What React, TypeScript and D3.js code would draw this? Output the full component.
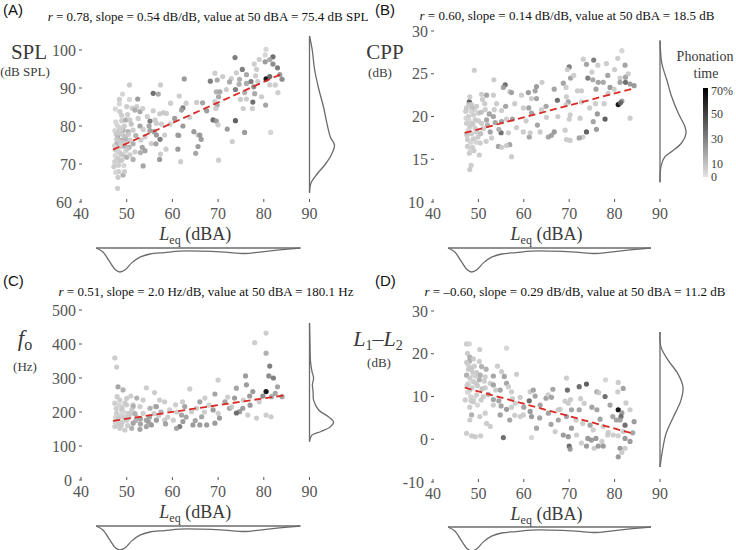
import React from "react";
import * as d3 from "d3";

// ---------- DATA ----------
// [Leq (dBA), value, phonation time %]
const splPoints: number[][] = [
[80.5,100.2,5],[80.3,98.7,5],[82.0,98.2,40],[81.3,97.5,20],[80.3,96.9,25],[82.0,96.3,30],[83.0,95.3,35],[73.7,98.0,35],[77.9,96.3,8],[78.4,94.9,8],[75.3,94.9,35],[69.3,93.9,8],[76.2,93.5,20],[78.2,93.2,8],[80.5,92.4,70],[81.3,93.0,40],[84.0,92.3,30],[62.6,92.4,25],[68.3,91.8,35],[69.8,92.1,20],[72.9,92.5,8],[72.5,91.6,20],[74.7,92.3,18],[74.6,91.0,18],[76.2,91.2,20],[77.2,91.7,35],[78.7,91.7,8],[81.3,90.8,8],[70.4,89.0,20],[69.6,89.0,18],[71.8,89.6,8],[73.8,89.6,35],[77.8,90.3,30],[75.8,88.8,18],[74.9,87.0,8],[76.2,87.1,8],[77.6,86.3,40],[75.5,84.6,8],[77.5,84.6,8],[79.5,87.7,8],[80.4,85.5,22],[83.1,88.8,8],[70.1,87.7,20],[69.3,86.4,8],[69.8,85.5,20],[69.5,84.6,8],[68.9,81.6,40],[69.6,81.3,25],[70.0,80.3,8],[73.8,81.4,45],[72.0,79.2,25],[75.8,78.3,25],[81.5,78.3,5],[73.1,75.9,8],[70.1,71.0,8],[66.6,86.1,22],[65.3,86.2,8],[62.3,84.8,35],[62.0,84.2,22],[61.5,87.9,8],[59.6,86.0,8],[58.0,83.5,8],[57.2,83.2,8],[57.4,90.8,8],[55.8,88.6,40],[56.9,88.4,20],[50.6,90.8,8],[49.1,88.4,5],[48.4,87.0,8],[50.6,87.0,5],[52.4,87.1,25],[48.4,85.8,5],[50.0,85.1,8],[51.2,84.7,8],[52.2,85.1,8],[52.9,83.8,22],[51.8,84.2,18],[53.5,84.6,8],[48.5,83.8,8],[47.6,81.1,5],[48.9,81.4,8],[49.8,81.6,18],[50.7,81.6,8],[55.1,81.3,35],[56.2,81.6,8],[56.5,80.7,8],[57.6,80.5,8],[52.9,80.0,22],[51.4,78.9,8],[50.3,78.5,18],[48.4,79.6,8],[49.2,78.9,18],[47.4,78.8,5],[53.6,79.1,8],[54.9,80.0,22],[55.1,78.8,22],[56.0,78.5,22],[56.5,77.6,25],[57.3,76.5,35],[58.3,77.6,8],[48.0,77.2,18],[48.9,76.3,18],[49.8,76.5,18],[50.7,76.3,8],[51.4,75.3,18],[53.1,76.3,8],[54.0,77.2,8],[47.8,75.3,18],[48.7,74.6,8],[49.6,74.7,18],[50.5,74.4,18],[53.4,74.4,22],[54.0,73.5,22],[55.4,75.4,8],[56.4,75.3,22],[57.4,72.6,8],[58.6,73.9,8],[47.6,73.7,8],[48.5,73.0,8],[49.2,72.4,8],[48.0,71.5,8],[48.9,71.0,8],[50.0,71.8,18],[47.4,70.6,8],[48.2,69.7,8],[50.7,72.4,8],[51.4,71.2,18],[51.8,73.2,8],[47.2,69.3,8],[48.2,68.0,8],[49.2,67.1,18],[49.5,68.0,8],[53.6,69.5,22],[57.2,71.2,25],[48.0,63.6,8],[61.2,77.6,25],[61.4,77.5,22],[61.2,73.9,25],[61.8,70.6,8],[62.3,80.0,25],[64.7,78.5,25],[65.6,77.6,8],[66.0,77.6,25],[66.3,76.5,25],[65.6,74.6,25],[65.1,72.8,22],[63.8,82.3,8],[58.7,83.3,8],
[47.8,76.5,8],[48.6,75.5,5],[49.0,77.8,8],[47.5,72.2,5],[48.8,72.5,8],[49.8,73.5,5],[48.3,78.5,8],[49.5,80.0,8],[47.9,80.2,5],[50.2,83.0,8],[47.5,84.5,5],[48.9,82.8,8],
[47.3,74.8,5],[47.7,77.9,8],[48.1,73.4,5],[48.4,76.0,8],[48.8,79.2,5],[49.3,75.6,8],[49.7,77.2,12],[50.1,74.0,8],[47.9,70.4,5],[48.6,70.9,8],[49.4,69.6,5],[48.1,66.5,8],[47.6,67.8,5],[50.4,77.8,8],[51.0,80.5,12],[52.0,77.5,18],[52.5,82.0,8],[53.0,73.0,18],[54.5,82.5,8],[55.8,84.0,8],[59.5,80.5,8],[60.5,82.0,25],[63.0,86.0,8],[67.5,84.0,25],[71.0,93.0,8],[74.0,94.0,8],[79.0,97.5,8],[83.5,93.5,25],[82.5,90.8,8],[78.0,88.5,20]
];

const cppPoints: number[][] = [
[81.6,27.7,5],[80.7,26.8,8],[82.3,26.0,22],[75.4,26.6,35],[73.1,26.7,8],[73.8,26.1,22],[76.3,26.0,8],[78.2,26.2,8],[70.0,25.8,35],[69.6,25.5,8],[75.0,25.2,8],[70.3,24.5,22],[74.1,24.5,35],[75.2,24.3,20],[76.4,24.0,22],[77.5,24.0,20],[81.2,24.5,8],[82.4,24.6,22],[81.2,24.0,22],[82.4,24.0,40],[83.4,23.8,25],[84.3,23.6,25],[79.0,23.4,25],[79.9,23.2,8],[68.7,23.9,22],[66.7,23.2,22],[69.3,23.4,8],[71.8,23.0,8],[72.7,23.0,8],[75.9,23.2,22],[78.6,22.7,8],[62.8,23.5,25],[62.5,23.0,22],[61.0,22.8,25],[59.5,22.5,8],[62.8,22.1,22],[61.7,22.1,8],[67.4,21.9,40],[64.9,21.2,22],[69.4,22.3,8],[69.8,21.7,22],[69.3,21.4,8],[72.7,21.7,8],[75.8,21.5,8],[77.7,21.5,8],[80.8,21.4,70],[81.6,21.8,25],[81.3,21.6,40],[83.4,19.8,8],[76.2,20.3,25],[77.9,19.7,45],[75.3,19.4,22],[76.0,18.5,25],[73.8,18.2,45],[73.0,17.6,8],[72.2,17.5,22],[70.0,19.7,8],[70.2,20.2,8],[72.4,19.8,8],[69.4,17.3,8],[70.2,17.2,8],[69.1,18.4,8],[66.7,18.2,25],[66.1,17.8,22],[65.4,17.6,22],[65.0,19.9,8],[63.9,20.8,8],[61.7,20.4,22],[61.2,17.6,22],[61.4,18.1,8],[63.6,18.2,8],[59.9,18.2,8],[59.9,21.0,8],[61.1,21.0,22],[58.4,18.7,8],[57.5,19.7,22],[56.2,19.7,8],[55.1,19.4,22],[53.7,19.3,22],[55.0,18.1,40],[56.6,18.1,8],[56.9,16.7,22],[56.2,16.6,8],[57.3,15.3,8],[54.4,16.5,22],[55.1,16.4,8],[56.9,22.9,8],[57.3,22.8,22],[55.9,23.7,40],[55.5,23.4,22],[53.4,24.3,8],[53.3,22.5,8],[55.1,20.7,8],[54.0,21.5,8],[51.8,22.5,22],[50.7,22.6,8],[50.9,22.0,8],[51.5,20.8,8],[52.4,20.3,22],[53.3,20.0,22],[51.8,19.6,22],[50.7,19.2,8],[49.3,18.6,8],[51.1,18.6,8],[52.6,18.2,22],[52.9,17.5,8],[51.7,17.1,8],[50.4,16.9,8],[49.1,25.4,8],[48.0,21.7,45],[48.1,22.3,8],[47.4,21.0,8],[48.5,21.4,8],[49.6,21.2,8],[50.0,20.4,8],[48.9,20.2,8],[47.8,20.0,8],[47.4,19.2,8],[48.5,19.2,8],[49.3,19.6,8],[48.1,18.8,8],[47.4,18.0,8],[48.5,18.0,8],[49.6,18.2,8],[47.6,17.3,8],[48.9,17.4,8],[49.9,17.6,8],[47.6,16.5,8],[48.7,16.4,8],[48.0,15.7,8],[50.2,15.5,8],[48.4,14.3,8],[48.1,13.8,8],[47.2,20.6,8],
[47.9,19.6,5],[48.3,17.0,5],[49.0,16.0,8],[47.8,18.4,5],[49.2,20.8,5],[50.5,18.0,12],[48.6,21.0,12],
[47.3,19.8,5],[47.9,21.4,8],[48.4,20.6,5],[48.8,19.1,8],[49.5,17.0,5],[47.5,17.8,8],[48.2,16.0,5],[50.0,19.5,8],[50.6,20.5,12],[51.4,21.5,8],[52.0,19.0,18],[53.5,20.8,8],[54.5,18.5,18],[56.0,21.2,22],[58.0,21.5,8],[60.5,19.5,8],[63.0,19.0,22],[64.0,24.0,8],[67.5,20.0,8],[71.0,24.8,8],[74.5,21.0,8],[78.5,24.8,22],[80.0,25.5,8],[83.0,25.0,8]
];

const foPoints: number[][] = [
[47.4,359,8],[47.8,332,8],[48.1,274,22],[49.2,265,18],[50.9,247,8],[54.3,271,8],[56.1,257,8],[52.2,241,18],[53.6,235,8],[63.8,268,8],[57.2,235,8],[70,294,8],[69.3,253,22],[67.1,241,8],[72.1,244,8],[74,270,22],[76,306,25],[76.2,280,25],[78,404,8],[77.6,260,25],[80.5,432,8],[80.5,373,18],[81.3,335,35],[81.1,306,30],[82.1,300,35],[80.5,260,70],[83.0,274,22],[79.8,247,30],[81.7,245,20],[76.9,247,25],[73.6,241,25],[66.0,230,22],[60.7,221,8],[62.2,230,8],[58.3,230,8],[56.2,216,8],[51.4,221,8],[49.6,226,8],[47.4,226,8],[52.9,216,8],
[50,221,8],[51.4,216,18],[55.1,211,18],[56.5,216,22],[62.7,216,22],[65.3,211,8],[68.9,206,25],[72.5,211,22],[75.4,211,25],[74.7,201,25],[74.0,197,40],[76.5,191,8],[78.4,182,8],[80.5,191,8],[81.6,186,8],[70,196,8],[70.3,182,25],[69.3,167,25],[67.5,162,25],[66.4,186,22],[66,162,25],[64.5,162,25],[62.3,172,25],[61.6,157,35],[60.9,152,22],[60.2,176,8],[58.3,176,8],[56.5,176,25],[55.4,162,25],[54.3,176,22],[53.6,196,8],[52.2,186,8],[51.4,167,22],[50,176,8],[48.5,186,8],[47.8,176,8],[47.4,157,8],[48.5,152,8],[49.6,147,8],[51.1,152,18],[52.9,149,22],[54.3,157,22],[48.9,206,8],[50.3,196,8],[47.8,196,8],[51.1,206,8],[59.4,206,8],[62,191,22],[64.2,201,8],
[48.0,165,8],[49.0,170,8],[50.2,160,8],[48.6,190,5],[49.5,185,8],[50.8,195,8],[47.6,185,5],[52.0,175,18],[53.0,165,22],[55.0,185,22],[57.0,190,8],[58.5,165,22],[49.0,212,8],[47.9,245,8],[48.5,235,8],
[47.5,170,5],[48.2,180,8],[48.8,160,8],[49.3,200,5],[50.5,185,8],[47.7,210,8],[48.4,220,5],[50.0,240,8],[51.8,195,18],[53.0,180,22],[54.8,170,22],[56.0,195,8],[57.5,200,18],[59.0,185,8],[61.0,200,8],[63.0,185,22],[65.0,175,22],[67.0,200,8],[68.0,220,8],[71.5,230,22],[73.0,215,8],[77.0,220,25],[79.0,230,8],[82.5,255,22],[84.0,245,22],[75.5,235,8]
];

const l1l2Points: number[][] = [
[47.4,22.3,8],[48.0,22.3,5],[56.2,21.3,5],[50.3,21.0,8],[47.6,20.1,8],[48.1,19.2,18],[48.9,18.8,8],[48.0,18.2,18],[49.1,17.1,8],[50.2,18.2,8],[50.7,17.0,18],[54.2,17.1,8],[51.7,16.4,18],[47.8,16.4,8],[48.5,16.2,8],[49.6,15.6,8],[50.4,15.0,18],[51.5,14.6,8],[55.1,15.8,8],[58.4,15.2,8],[55.7,14.7,22],[47.4,15.0,18],[48.1,14.3,8],[48.9,13.5,8],[50.2,13.9,18],[51.3,13.6,8],[53.3,14.8,22],[52.6,13.1,8],[53.3,12.7,22],[56.2,13.1,22],[56.6,12.3,8],[54.8,11.5,22],[57.3,11.1,8],[48.1,11.5,8],[49.6,10.4,8],[47.1,9.2,8],[48.9,8.8,8],[48.1,7.5,8],[51.1,10.0,8],[53.3,9.3,22],[53.3,8.0,8],[55.0,7.8,22],[56.2,7.0,25],[57.3,7.5,8],[58.1,8.4,8],[59.2,9.8,8],[61.4,11.1,8],[62.1,11.5,22],[61.2,9.0,40],[62.5,10.1,22],[61.4,6.5,25],[63.6,8.0,22],[61.7,5.3,25],[59.9,5.7,8],[58.0,5.6,8],[56.9,4.5,22],[54.8,5.7,22],[51.5,6.1,8],[50.3,5.3,8],[48.5,5.7,18],[48.1,4.5,8],[51.8,3.7,8],[52.6,3.0,8],[47.4,1.4,8],[48.5,0.8,8],[49.3,0.6,8],[50.5,0.8,8],[55.5,0.4,40],[61.7,0.4,5],[62.8,2.6,22],[64.9,9.6,22],[65.4,10.4,8],[66.4,11.7,22],[66.1,9.8,22],[65.4,6.1,22],[67.6,6.9,8],[67.6,4.5,22],[66.9,1.8,8],[68.7,1.0,25],[69.6,11.5,40],[69.4,14.3,8],[69.8,8.4,8],[69.1,8.9,8],[70.3,9.3,8],[70.5,6.9,22],[69.4,5.3,22],[70.5,2.6,25],[69.8,0.6,25],[70.0,-1.6,40],[70.2,-2.3,25],[71.6,1.0,8],[72.2,12.3,40],[73.8,12.9,45],[73.3,8.4,8],[72.2,6.9,22],[73.0,3.7,8],[74.6,3.3,22],[74.1,0.2,25],[72.7,-0.9,8],[73.8,-1.6,25],[74.9,-0.2,25],[75.9,0.2,25],[75.3,2.2,8],[75.5,-2.1,8],[76.4,-1.6,25],[77.2,-0.5,8],[77.5,-1.6,25],[76.1,11.1,22],[76.5,10.9,8],[77.9,10.0,40],[78.0,13.9,5],[76.1,6.9,22],[76.8,4.7,22],[78.5,1.0,8],[78.6,1.6,8],[79.6,5.3,22],[79.7,1.0,8],[80.8,13.3,8],[80.7,11.1,8],[81.9,11.9,22],[80.8,6.9,70],[81.6,6.2,25],[81.4,5.3,40],[81.2,4.5,22],[82.3,3.3,40],[83.4,6.9,8],[84.3,4.1,25],[80.4,4.5,22],[81.9,1.8,8],[80.8,0.8,8],[82.3,0.2,25],[83.4,-0.5,25],[82.3,-2.1,8],[81.2,-2.1,25],[80.8,-4.1,25],[81.6,-3.1,8],[59.2,5.3,8],
[47.8,13.0,5],[48.6,12.0,8],[49.4,14.8,8],[47.5,12.6,8],[48.3,10.0,5],[49.8,12.5,8],[50.8,11.8,12],[49.0,9.6,5],[47.7,17.5,5],[48.8,15.5,8],
[47.4,18.0,8],[48.2,16.8,8],[48.9,15.0,5],[49.5,13.0,8],[47.6,11.0,5],[48.4,9.0,8],[49.8,8.0,5],[50.6,9.2,8],[51.5,12.0,8],[52.2,10.5,18],[53.8,11.5,8],[54.5,9.0,22],[57.5,9.5,8],[60.0,7.5,22],[63.5,5.0,22],[66.0,3.5,22],[68.0,7.0,8],[71.5,4.5,8],[72.5,9.5,8],[75.0,7.5,22],[77.5,3.0,8],[79.0,8.0,22],[82.5,8.5,8],[84.0,1.5,22]
];

// Marginal densities: [value, relative density]
const leqDensity: number[][] = [[43.3,0],[44.8,0.17],[46.3,0.58],[47.6,0.92],[48.5,1],[49.6,0.92],[51.1,0.62],[52.9,0.38],[55.1,0.25],[58.3,0.19],[61.6,0.13],[66,0.13],[71.4,0.17],[75.8,0.23],[79.1,0.17],[83.4,0.08],[88,0]];
const splDensity: number[][] = [[62.4,0],[65,0.06],[67.5,0.32],[70,0.64],[72.5,0.88],[75,1],[77,0.84],[80,0.72],[85,0.56],[90,0.36],[95,0.2],[100,0.11],[103.7,0]];
const cppDensity: number[][] = [[12.3,0],[14.2,0.04],[15.3,0.19],[15.9,0.45],[16.9,0.83],[18.0,1],[18.8,0.96],[20.4,0.7],[22.3,0.45],[24.3,0.26],[26.2,0.07],[28.9,0]];
const foDensity: number[][] = [[113,0],[132,0.1],[142,0.46],[157,0.88],[171,1],[186,0.79],[206,0.38],[235,0.17],[260,0.15],[280,0.12],[300,0.17],[320,0.1],[350,0.04],[400,0.02],[462,0]];
const l1l2Density: number[][] = [[-6.5,0],[-4.2,0.06],[-1.9,0.13],[1.3,0.26],[5.1,0.57],[9.1,0.91],[12.2,1],[15.3,0.78],[18.5,0.35],[21.6,0.04],[25.1,0]];

const leqTicks = [40, 50, 60, 70, 80, 90];
const splTicks = [60, 70, 80, 90, 100];
const cppTicks = [10, 15, 20, 25, 30];
const foTicks = [0, 100, 200, 300, 400, 500];
const l1l2Ticks = [-10, 0, 10, 20, 30];
const phonationTicks = [0, 10, 30, 50, 70];
const phonationTickLabels = ["0", "10", "30", "50", "70%"];

const fitAt50 = [75.4, 18.5, 180.1, 11.2];
const fitSlope = [0.54, 0.14, 2.0, -0.29];
const fitRange = [47, 84.3];

const panelLetters = ["(A)", "(B)", "(C)", "(D)"];
const statTexts = [
  " = 0.78, slope = 0.54 dB/dB, value at 50 dBA = 75.4 dB SPL",
  " = 0.60, slope = 0.14 dB/dB, value at 50 dBA = 18.5 dB",
  " = 0.51, slope = 2.0 Hz/dB, value at 50 dBA = 180.1 Hz",
  " = \u20130.60, slope = 0.29 dB/dB, value at 50 dBA = 11.2 dB",
];

// ---------- LAYOUT ----------
const SERIF = "Liberation Serif";
const SANS = "Liberation Sans";
const TICK_COLOR = "#555555";
const LABEL_COLOR = "#3a3a3a";
const DENS_COLOR = "#6b6b6b";

const layouts = [
  { xr: [81, 309.5], yd: [60, 100], yr: [202, 50], ticks: splTicks, points: splPoints, dens: splDensity, densW: 25, botY: 248, titleX: 208, titleY: 21, letterX: 3, letterY: 15 },
  { xr: [433, 660], yd: [10, 30], yr: [202, 31], ticks: cppTicks, points: cppPoints, dens: cppDensity, densW: 26, botY: 248, titleX: 567, titleY: 20, letterX: 375, letterY: 15 },
  { xr: [81, 309.5], yd: [0, 500], yr: [480, 310], ticks: foTicks, points: foPoints, dens: foDensity, densW: 24, botY: 526, titleX: 206, titleY: 296, letterX: 3, letterY: 286 },
  { xr: [433, 660], yd: [-10, 30], yr: [482, 311], ticks: l1l2Ticks, points: l1l2Points, dens: l1l2Density, densW: 23, botY: 527, titleX: 575, titleY: 296, letterX: 375, letterY: 286 },
];

const color = d3.scaleLinear<string>().domain([0, 70]).range(["#e2e2e2", "#000000"]).clamp(true);

function Panel({ i }: { i: number }) {
  const L = layouts[i];
  const x = d3.scaleLinear().domain([40, 90]).range(L.xr);
  const y = d3.scaleLinear().domain(L.yd).range(L.yr);
  const axisX = L.xr[0];
  const axisY = L.yr[0];
  const rightX = L.xr[1];

  const fitLine = d3.line<number>()
    .x((d) => x(d))
    .y((d) => y(fitAt50[i] + fitSlope[i] * (d - 50)));

  const rightCurve = d3.line<number[]>()
    .x((d) => rightX + d[1] * L.densW)
    .y((d) => y(d[0]))
    .curve(d3.curveCatmullRom);
  const botCurve = d3.line<number[]>()
    .x((d) => x(d[0]))
    .y((d) => L.botY + d[1] * 24)
    .curve(d3.curveCatmullRom);

  const dMin = L.dens[0][0];
  const dMax = L.dens[L.dens.length - 1][0];
  const lMin = leqDensity[0][0];
  const lMax = leqDensity[leqDensity.length - 1][0];
  const lowest = L.ticks[0];

  return (
    <g>
      <text x={L.letterX} y={L.letterY} fontFamily={SANS} fontSize={15} fill="#111">{panelLetters[i]}</text>
      <text x={L.titleX} y={L.titleY} fontFamily={SERIF} fontSize={13} textAnchor="middle" fill="#111">
        <tspan fontStyle="italic">r</tspan>
        <tspan>{statTexts[i]}</tspan>
      </text>
      {/* y ticks */}
      {L.ticks.map((t) => (
        <g key={"y" + t}>
          <line x1={axisX - 2} x2={axisX + 1} y1={y(t)} y2={y(t)} stroke={TICK_COLOR} strokeWidth={1} />
          <text x={axisX - (t === lowest ? 9 : 5)} y={y(t)} dy="0.35em" textAnchor="end" fontFamily={SERIF} fontSize={16} fill={TICK_COLOR}>{t}</text>
        </g>
      ))}
      {/* x ticks */}
      {leqTicks.map((t) => (
        <g key={"x" + t}>
          <line x1={x(t)} x2={x(t)} y1={axisY - 3} y2={axisY} stroke={TICK_COLOR} strokeWidth={1} />
          <text x={x(t)} y={axisY + 16.5} textAnchor="middle" fontFamily={SERIF} fontSize={16} fill={TICK_COLOR}>{t}</text>
        </g>
      ))}
      {/* x title */}
      <text x={(L.xr[0] + L.xr[1]) / 2} y={axisY + 38} textAnchor="middle" fontFamily={SERIF} fontSize={18} fill={LABEL_COLOR}>
        <tspan fontStyle="italic">L</tspan>
        <tspan fontSize={12} dy={4}>eq</tspan>
        <tspan dy={-4}> (dBA)</tspan>
      </text>
      {/* points */}
      {L.points.map((p, k) => (
        <circle key={k} cx={x(p[0])} cy={y(p[1])} r={2.6} fill={color(p[2])} fillOpacity={0.9} />
      ))}
      {/* regression line */}
      <path d={fitLine(fitRange) || ""} fill="none" stroke="#d92a23" strokeWidth={1.8} strokeDasharray="7,4" />
      {/* right density */}
      <line x1={rightX} x2={rightX} y1={y(dMin)} y2={y(dMax)} stroke={DENS_COLOR} strokeWidth={1.3} />
      <path d={rightCurve(L.dens) || ""} fill="none" stroke={DENS_COLOR} strokeWidth={1.3} />
      {/* bottom density */}
      <line x1={x(lMin)} x2={x(lMax)} y1={L.botY} y2={L.botY} stroke={DENS_COLOR} strokeWidth={1.3} />
      <path d={botCurve(leqDensity) || ""} fill="none" stroke={DENS_COLOR} strokeWidth={1.3} />
    </g>
  );
}

export default function App() {
  const cb = d3.scaleLinear().domain([0, 70]).range([177, 88]);
  return (
    <svg width={736} height={550} style={{ position: "absolute", left: 0, top: 0, background: "#fff" }}>
      <defs>
        <linearGradient id="phon" x1="0" y1="1" x2="0" y2="0">
          <stop offset="0%" stopColor={color(0)} />
          <stop offset="50%" stopColor={color(35)} />
          <stop offset="100%" stopColor={color(70)} />
        </linearGradient>
      </defs>
      <rect x={0} y={0} width={736} height={550} fill="#fff" />
      {[0, 1, 2, 3].map((i) => <Panel key={i} i={i} />)}

      {/* y axis titles */}
      <text x={29} y={59} textAnchor="middle" fontFamily={SERIF} fontSize={21} fill={LABEL_COLOR}>SPL</text>
      <text x={25} y={76} textAnchor="middle" fontFamily={SERIF} fontSize={13} fill={LABEL_COLOR}>(dB SPL)</text>
      <text x={385} y={59} textAnchor="middle" fontFamily={SERIF} fontSize={21} fill={LABEL_COLOR}>CPP</text>
      <text x={380} y={77} textAnchor="middle" fontFamily={SERIF} fontSize={13} fill={LABEL_COLOR}>(dB)</text>
      <text x={25} y={346} textAnchor="middle" fontFamily={SERIF} fontSize={23} fill={LABEL_COLOR}>
        <tspan fontStyle="italic">f</tspan>
        <tspan fontSize={16} dy={4}>o</tspan>
      </text>
      <text x={25} y={371} textAnchor="middle" fontFamily={SERIF} fontSize={13} fill={LABEL_COLOR}>(Hz)</text>
      <text x={378} y={346} textAnchor="middle" fontFamily={SERIF} fontSize={22} fill={LABEL_COLOR}>
        <tspan fontStyle="italic">L</tspan>
        <tspan fontSize={14} dy={4}>1</tspan>
        <tspan dy={-4}>{"\u2013"}</tspan>
        <tspan fontStyle="italic">L</tspan>
        <tspan fontSize={14} dy={4}>2</tspan>
      </text>
      <text x={379} y={367} textAnchor="middle" fontFamily={SERIF} fontSize={13} fill={LABEL_COLOR}>(dB)</text>

      {/* colour bar legend */}
      <text x={705} y={61} textAnchor="middle" fontFamily={SERIF} fontSize={14} fill={LABEL_COLOR}>Phonation</text>
      <text x={706} y={78} textAnchor="middle" fontFamily={SERIF} fontSize={14} fill={LABEL_COLOR}>time</text>
      <rect x={703} y={cb(70)} width={5} height={cb(0) - cb(70)} fill="url(#phon)" />
      {phonationTicks.map((t, k) => (
        <text key={t} x={711} y={cb(t) + (t === 70 ? 3 : 0)} dy="0.35em" fontFamily={SERIF} fontSize={12} fill={LABEL_COLOR}>{phonationTickLabels[k]}</text>
      ))}
    </svg>
  );
}
